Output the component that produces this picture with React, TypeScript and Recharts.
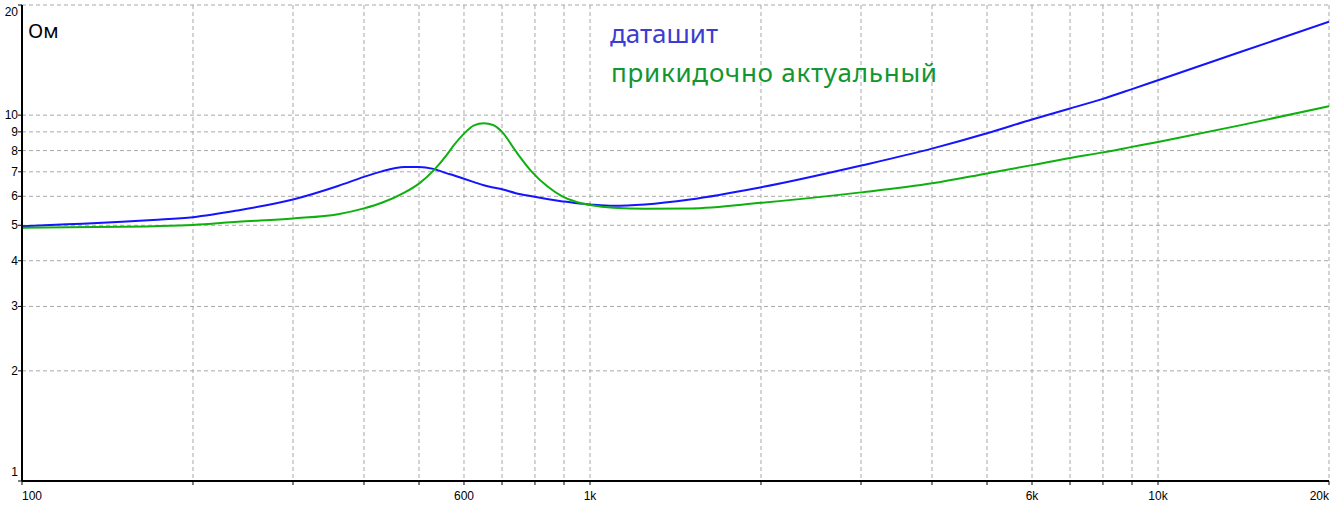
import { LineChart, Line, XAxis, YAxis, CartesianGrid } from 'recharts';

// frequency points (Hz)
const freqs = [
  100, 120, 150, 170, 200, 240, 300, 360, 400, 430, 472, 500, 530, 560, 575, 600, 625, 650, 675, 700,
  740, 790, 840, 890, 950, 1000, 1100, 1250, 1500, 2000, 3000, 4000, 5000, 6000, 7000, 8000, 9000,
  10000, 14000, 20000,
];

// impedance, Ohm
const datasheet = [
  4.97, 5.03, 5.11, 5.17, 5.26, 5.49, 5.88, 6.4, 6.78, 7.02, 7.21, 7.22, 7.13, 6.93, 6.85, 6.7, 6.56, 6.43, 6.34, 6.27,
  6.12, 6.0, 5.9, 5.82, 5.74, 5.7, 5.65, 5.7, 5.88, 6.35, 7.28, 8.1, 8.92, 9.73, 10.43, 11.08, 11.78,
  12.46, 14.9, 18.0,
];
const estimated = [
  4.92, 4.94, 4.95, 4.97, 5.01, 5.11, 5.22, 5.36, 5.56, 5.76, 6.15, 6.5, 7.05, 7.8, 8.25, 8.9, 9.38, 9.5, 9.4, 9.0,
  7.97, 7.0, 6.4, 6.02, 5.78, 5.68, 5.58, 5.55, 5.56, 5.76, 6.15, 6.51, 6.93, 7.3, 7.64, 7.91, 8.19,
  8.45, 9.39, 10.58,
];

const xTicks = [
  100, 200, 300, 400, 500, 600, 700, 800, 900, 1000, 2000, 3000, 4000, 5000, 6000, 7000, 8000,
  9000, 10000, 20000,
];
const xLabels: Record<number, string> = { 100: '100', 600: '600', 1000: '1k', 6000: '6k', 10000: '10k', 20000: '20k' };
const yTicks = [1, 2, 3, 4, 5, 6, 7, 8, 9, 10, 20];

const data = freqs.map((f, i) => ({ f, ds: datasheet[i], est: estimated[i] }));

const tickFont = '"Liberation Sans", Arial, sans-serif';
const textFont = '"Noto Sans", sans-serif';

const XTick = ({ x, y, payload }: any) => {
  const label = xLabels[payload.value];
  if (!label) return <g />;
  const anchor = payload.value === 100 ? 'start' : payload.value === 20000 ? 'end' : 'middle';
  return (
    <text x={x} y={y} dy={13} textAnchor={anchor} fontSize={12} fontFamily={tickFont} fill="#000">
      {label}
    </text>
  );
};

const YTick = ({ x, y, payload }: any) => {
  const v = payload.value;
  const dy = v === 20 ? 11 : v === 1 ? -5 : 4;
  return (
    <text x={x + 2} y={y} dy={dy} textAnchor="end" fontSize={12} fontFamily={tickFont} fill="#000">
      {v}
    </text>
  );
};

export default function App() {
  return (
    <div style={{ position: 'fixed', left: 0, top: 0, width: 1331, height: 507, background: '#fff' }}>
      <LineChart width={1331} height={507} data={data} margin={{ top: 5, right: 2, bottom: 0, left: 0 }}>
        <CartesianGrid stroke="#a8a8a8" strokeDasharray="4 3" />
        <XAxis
          dataKey="f"
          type="number"
          scale="log"
          domain={[100, 20000]}
          ticks={xTicks}
          interval={0}
          height={26}
          tickSize={4}
          axisLine={{ stroke: '#000', strokeWidth: 2 }}
          tickLine={{ stroke: '#000' }}
          tick={<XTick />}
          allowDataOverflow
        />
        <YAxis
          type="number"
          scale="log"
          domain={[1, 20]}
          ticks={yTicks}
          interval={0}
          width={22}
          tickSize={4}
          axisLine={{ stroke: '#000', strokeWidth: 2 }}
          tickLine={{ stroke: '#000' }}
          tick={<YTick />}
          allowDataOverflow
        />
        <Line type="monotone" dataKey="ds" stroke="#1414ff" strokeWidth={2} dot={false} isAnimationActive={false} />
        <Line type="monotone" dataKey="est" stroke="#0db00d" strokeWidth={2} dot={false} isAnimationActive={false} />
      </LineChart>
      <svg width={1331} height={507} style={{ position: 'absolute', left: 0, top: 0, pointerEvents: 'none' }}>
        <text x={28} y={38} fontSize={20} fontFamily={textFont} fill="#000">
          Ом
        </text>
        <text x={610} y={43} fontSize={26} fontFamily={textFont} fill="#3c3cd2">
          даташит
        </text>
        <text x={611} y={82} fontSize={26} fontFamily={textFont} fill="#119632" textLength={326} lengthAdjust="spacing">
          прикидочно актуальный
        </text>
      </svg>
    </div>
  );
}
